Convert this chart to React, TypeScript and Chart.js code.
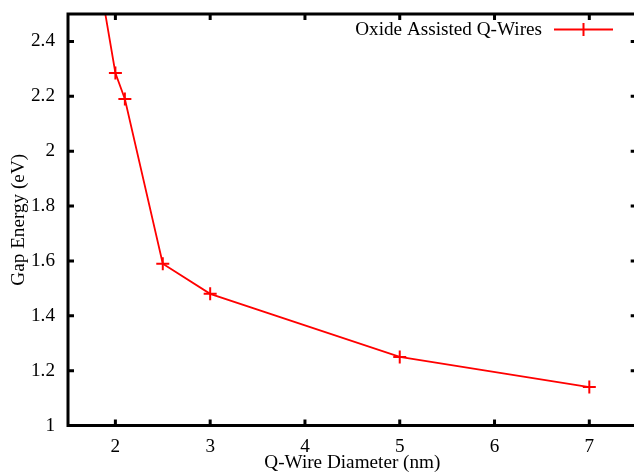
import React, { useEffect, useRef } from "react";
import { Chart, registerables } from "chart.js";

Chart.register(...registerables);

// ---- data ----
const diameters = [1.8, 2.0, 2.1, 2.5, 3.0, 5.0, 7.0];
const gapEnergies = [2.69, 2.285, 2.19, 1.59, 1.48, 1.25, 1.14];
const xTickValues = [2, 3, 4, 5, 6, 7];
const yTickValues = [1, 1.2, 1.4, 1.6, 1.8, 2, 2.2, 2.4];
const seriesLabel = "Oxide Assisted Q-Wires";
const xTitle = "Q-Wire Diameter (nm)";
const yTitle = "Gap Energy (eV)";

// ---- layout ----
const W = 660;
const H = 490;
const AREA_LEFT = 68;
const AREA_TOP = 14;
const AREA_RIGHT = 636.7;
const AREA_BOTTOM = 425.5;
const FONT = "'Liberation Serif', 'Times New Roman', serif";
const FONT_SIZE = 19.2;
const RED = "#ff0000";

const framePlugin = {
  id: "gnuFrame",
  afterDatasetsDraw(chart: any) {
    const { ctx, chartArea: a, scales } = chart;
    const xs = scales.x;
    const ys = scales.y;
    const tl = 6;
    ctx.save();
    ctx.strokeStyle = "#000";
    ctx.lineWidth = 3;
    ctx.lineCap = "butt";
    ctx.beginPath();
    for (const t of xs.ticks) {
      const px = xs.getPixelForValue(t.value);
      ctx.moveTo(px, a.bottom);
      ctx.lineTo(px, a.bottom - tl);
      ctx.moveTo(px, a.top);
      ctx.lineTo(px, a.top + tl);
    }
    for (const t of ys.ticks) {
      const py = ys.getPixelForValue(t.value);
      ctx.moveTo(a.left, py);
      ctx.lineTo(a.left + tl, py);
      ctx.moveTo(a.right, py);
      ctx.lineTo(a.right - tl, py);
    }
    ctx.stroke();
    ctx.strokeRect(a.left, a.top, a.right - a.left, a.bottom - a.top);

    // legend (gnuplot style: text, then sample line with marker)
    const ds = chart.data.datasets[0];
    const ly = a.top + 15.5;
    const sampleEnd = a.right - 23.7;
    const sampleStart = a.right - 82.7;
    ctx.fillStyle = "#000";
    ctx.font = `${FONT_SIZE}px ${FONT}`;
    ctx.textAlign = "right";
    ctx.textBaseline = "middle";
    ctx.fillText(ds.label, a.right - 94.7, ly);
    ctx.strokeStyle = ds.borderColor;
    ctx.lineWidth = 2;
    ctx.beginPath();
    ctx.moveTo(sampleStart, ly);
    ctx.lineTo(sampleEnd, ly);
    const cx = (sampleStart + sampleEnd) / 2;
    ctx.moveTo(cx, ly - 6.5);
    ctx.lineTo(cx, ly + 6.5);
    ctx.stroke();
    ctx.restore();
  },
};

export default function App() {
  const ref = useRef<HTMLCanvasElement | null>(null);

  useEffect(() => {
    if (!ref.current) return;
    const font = { family: FONT, size: FONT_SIZE, lineHeight: 1.2 };
    const chart = new Chart(ref.current, {
      type: "line",
      data: {
        datasets: [
          {
            label: seriesLabel,
            data: diameters.map((d, i) => ({ x: d, y: gapEnergies[i] })),
            borderColor: RED,
            backgroundColor: RED,
            borderWidth: 1.8,
            tension: 0,
            pointStyle: "cross",
            pointRadius: 6.5,
            pointBorderWidth: 2,
            pointBorderColor: RED,
            fill: false,
          },
        ],
      },
      options: {
        responsive: false,
        animation: false,
        devicePixelRatio: 1,
        layout: {
          padding: { left: 0, top: AREA_TOP, right: W - AREA_RIGHT, bottom: 0 },
        },
        plugins: {
          legend: { display: false },
          tooltip: { enabled: false },
        },
        scales: {
          x: {
            type: "linear",
            min: 1.5,
            max: 7.5,
            afterBuildTicks: (s: any) => {
              s.ticks = xTickValues.map((v) => ({ value: v }));
            },
            afterFit: (s: any) => {
              s.height = H - AREA_BOTTOM;
              s.paddingLeft = 0;
              s.paddingRight = 0;
            },
            grid: { display: false, drawTicks: false },
            border: { display: false },
            ticks: {
              padding: 9.5,
              color: "#000",
              font,
              maxRotation: 0,
              autoSkip: false,
              callback: (v: any) => String(v),
            },
            title: {
              display: true,
              text: xTitle,
              color: "#000",
              font,
              padding: { top: 0, bottom: 15.5 },
            },
          },
          y: {
            type: "linear",
            min: 1,
            max: 2.5,
            afterBuildTicks: (s: any) => {
              s.ticks = yTickValues.map((v) => ({ value: v }));
            },
            afterFit: (s: any) => {
              s.width = AREA_LEFT;
              s.paddingTop = 0;
              s.paddingBottom = 0;
            },
            grid: { display: false, drawTicks: false },
            border: { display: false },
            ticks: {
              padding: 13,
              color: "#000",
              font,
              autoSkip: false,
              callback: (v: any) => String(Math.round(v * 10) / 10),
            },
            title: {
              display: true,
              text: yTitle,
              color: "#000",
              font,
              padding: { top: 7.6, bottom: 0 },
            },
          },
        },
      },
      plugins: [framePlugin],
    } as any);
    return () => chart.destroy();
  }, []);

  return (
    <div
      style={{
        position: "fixed",
        left: 0,
        top: 0,
        width: 634,
        height: 472,
        overflow: "hidden",
        background: "#fff",
      }}
    >
      <canvas
        ref={ref}
        width={W}
        height={H}
        style={{ display: "block", width: W, height: H }}
      />
    </div>
  );
}
